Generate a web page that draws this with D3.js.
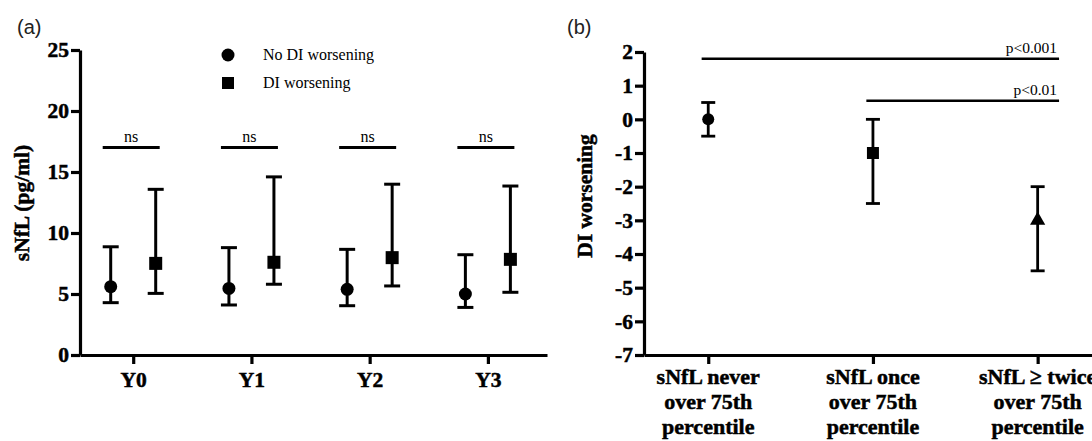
<!DOCTYPE html>
<html><head><meta charset="utf-8">
<script src="https://cdn.jsdelivr.net/npm/d3@7"></script>
<style>body{margin:0;background:#fff}svg{display:block}</style>
</head><body><svg id="c" width="1092" height="441"></svg>
<script>
// Panel (a) data
const yearsA = ["Y0","Y1","Y2","Y3"];
const noWorsMean = [5.6, 5.46, 5.38, 5.0];
const noWorsLow  = [4.29, 4.1, 4.04, 3.9];
const noWorsHigh = [8.87, 8.8, 8.66, 8.22];
const worsMean = [7.51, 7.6, 7.98, 7.84];
const worsLow  = [5.05, 5.8, 5.66, 5.14];
const worsHigh = [13.58, 14.6, 14.0, 13.85];
const nsLevel = [17, 17, 17, 17];
const nsLabels = ["ns","ns","ns","ns"];
const ticksA = [0,5,10,15,20,25];
const legendLabels = ["No DI worsening","DI worsening"];

// Panel (b) data
const catsB = [["sNfL never","over 75th","percentile"],["sNfL once","over 75th","percentile"],["sNfL \u2265 twice","over 75th","percentile"]];
const diMean = [0, -1, -3];
const diLow  = [-0.5, -2.5, -4.5];
const diHigh = [0.5, 0, -2];
const ticksB = [2,1,0,-1,-2,-3,-4,-5,-6,-7];
const sigFrom = [-0.04, 0.96];
const sigTo   = [2.13, 2.13];
const sigLevel = [1.8, 0.55];
const sigLabels = ["p<0.001","p<0.01"];

const svg = d3.select("#c");
const SERIF = "'Liberation Serif','Times New Roman',serif";
const SANS = "'Liberation Sans',Arial,sans-serif";

function boldText(sel, size){
  sel.attr("fill","#000").style("font-family",SERIF).style("font-weight","bold").style("font-size",size+"px")
    .attr("stroke","#000").attr("stroke-width",0.5);
}
function styleAxis(g){
  g.select(".domain").attr("stroke","#000").attr("stroke-width",3.2);
  g.selectAll(".tick line").attr("stroke","#000").attr("stroke-width",3.2);
  boldText(g.selectAll(".tick text"), 21.5);
}

// ---------- Panel (a) ----------
const xA = d3.scaleLinear().domain([-0.45, 3.5]).range([80, 547]);
const yA = d3.scaleLinear().domain([0, 25]).range([355, 50]);
const off = 22.5;

svg.append("text").attr("x",17).attr("y",34).text("(a)").style("font-family",SANS).style("font-size","20px").attr("fill","#222");

const gyA = svg.append("g").attr("transform","translate(80,0)")
  .call(d3.axisLeft(yA).tickValues(ticksA).tickSize(9).tickSizeOuter(0).tickPadding(2));
styleAxis(gyA);
const gxA = svg.append("g").attr("transform","translate(0,355)")
  .call(d3.axisBottom(xA).tickValues(d3.range(yearsA.length)).tickFormat(i=>yearsA[i]).tickSize(9).tickSizeOuter(0).tickPadding(8));
styleAxis(gxA);

boldText(svg.append("text").attr("transform","translate(29,203) rotate(-90)").attr("text-anchor","middle")
  .text("sNfL (pg/ml)"), 21.5);

function errBar(g, x, lo, hi, capW, sw){
  g.append("line").attr("x1",x).attr("x2",x).attr("y1",lo).attr("y2",hi).attr("stroke","#000").attr("stroke-width",sw);
  g.append("line").attr("x1",x-capW/2).attr("x2",x+capW/2).attr("y1",lo).attr("y2",lo).attr("stroke","#000").attr("stroke-width",sw);
  g.append("line").attr("x1",x-capW/2).attr("x2",x+capW/2).attr("y1",hi).attr("y2",hi).attr("stroke","#000").attr("stroke-width",sw);
}
const gA = svg.append("g");
yearsA.forEach((y,i)=>{
  const xc = xA(i)-off, xs = xA(i)+off;
  errBar(gA, xc, yA(noWorsLow[i]), yA(noWorsHigh[i]), 16, 3);
  gA.append("circle").attr("cx",xc).attr("cy",yA(noWorsMean[i])).attr("r",6.5).attr("fill","#000");
  errBar(gA, xs, yA(worsLow[i]), yA(worsHigh[i]), 16, 3);
  gA.append("rect").attr("x",xs-6.5).attr("y",yA(worsMean[i])-6.5).attr("width",13).attr("height",13).attr("fill","#000");
  // ns bracket
  gA.append("line").attr("x1",xc-8).attr("x2",xs+4).attr("y1",yA(nsLevel[i])).attr("y2",yA(nsLevel[i])).attr("stroke","#000").attr("stroke-width",3);
  gA.append("text").attr("x",(xc+xs)/2-2).attr("y",yA(nsLevel[i])-6).attr("text-anchor","middle").text(nsLabels[i])
    .style("font-family",SERIF).style("font-size","16px");
});
// legend
const lg = svg.append("g");
lg.append("circle").attr("cx",228).attr("cy",55).attr("r",6.5).attr("fill","#000");
lg.append("rect").attr("x",222).attr("y",77).attr("width",12).attr("height",12).attr("fill","#000");
legendLabels.forEach((t,i)=>{
  lg.append("text").attr("x",263).attr("y",60+i*28).text(t).style("font-family",SERIF).style("font-size","16px");
});

// ---------- Panel (b) ----------
const xB = d3.scaleLinear().domain([-0.39, 2.33]).range([644, 1092]);
const yB = d3.scaleLinear().domain([-7, 2]).range([355, 52]);

svg.append("text").attr("x",567).attr("y",34).text("(b)").style("font-family",SANS).style("font-size","20px").attr("fill","#222");

const gyB = svg.append("g").attr("transform","translate(644,0)")
  .call(d3.axisLeft(yB).tickValues(ticksB).tickFormat(d3.format("d")).tickSize(9).tickSizeOuter(0).tickPadding(2));
styleAxis(gyB);
gyB.selectAll(".tick text").text(d=>d<0? "-"+Math.abs(d) : d);
const gxB = svg.append("g").attr("transform","translate(0,355)")
  .call(d3.axisBottom(xB).tickValues(d3.range(catsB.length)).tickFormat("").tickSize(9).tickSizeOuter(0));
styleAxis(gxB);
catsB.forEach((lines,i)=>{
  const t = svg.append("text").attr("text-anchor","middle");
  boldText(t, 22);
  lines.forEach((l,j)=>{ t.append("tspan").attr("x",xB(i)).attr("y",384+j*25).text(l); });
});

boldText(svg.append("text").attr("transform","translate(592,196) rotate(-90)").attr("text-anchor","middle")
  .text("DI worsening"), 21.5);

const gB = svg.append("g");
diMean.forEach((m,i)=>{
  const x = xB(i);
  errBar(gB, x, yB(diLow[i]), yB(diHigh[i]), 14, 2.8);
  const y = yB(m);
  if(i===0) gB.append("circle").attr("cx",x).attr("cy",y).attr("r",6).attr("fill","#000");
  else if(i===1) gB.append("rect").attr("x",x-6).attr("y",y-6).attr("width",12).attr("height",12).attr("fill","#000");
  else gB.append("path").attr("d",d3.symbol(d3.symbolTriangle,100)()).attr("transform",`translate(${x},${y})`).attr("fill","#000");
});
sigLabels.forEach((lab,i)=>{
  const y = yB(sigLevel[i]);
  gB.append("line").attr("x1",xB(sigFrom[i])).attr("x2",xB(sigTo[i])).attr("y1",y).attr("y2",y).attr("stroke","#000").attr("stroke-width",2.5);
  gB.append("text").attr("x",xB(sigTo[i])-2).attr("y",y-6).attr("text-anchor","end").text(lab).style("font-family",SERIF).style("font-size","15.5px");
});
</script></body></html>
